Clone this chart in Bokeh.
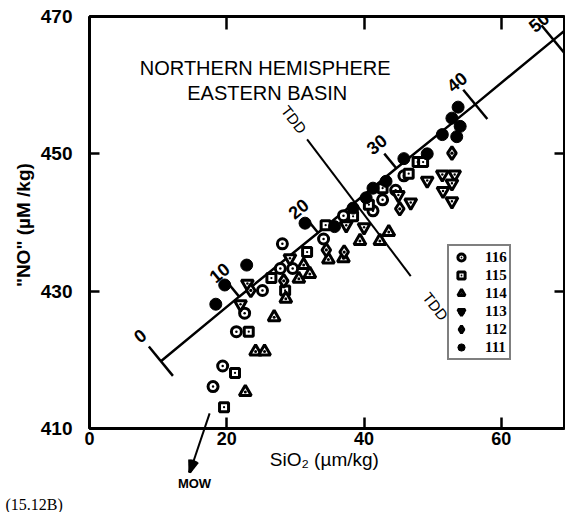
import math
from bokeh.plotting import figure
from bokeh.models import (Range1d, LinearAxis, FixedTicker, Label, Arrow, NormalHead,
                          Legend, LegendItem, Title)
from bokeh.embed import file_html
from bokeh.resources import INLINE

# ---------------- data ----------------
s116_x = [18.0, 19.4, 21.4, 22.6, 25.2, 27.8, 29.6, 28.1, 34.1, 37.0, 41.3, 42.7, 44.6, 45.8]
s116_y = [416.1, 419.1, 424.1, 426.8, 430.1, 433.3, 433.3, 436.9, 437.6, 441.0, 441.7, 443.3, 444.7, 446.8]
s115_x = [19.6, 21.2, 23.2, 26.5, 28.5, 31.7, 34.4, 38.4, 40.7, 42.7, 46.5, 47.8, 48.6]
s115_y = [413.1, 418.1, 424.1, 431.9, 430.1, 435.7, 439.6, 440.9, 442.6, 445.0, 447.1, 448.8, 448.8]
s114_x = [22.7, 24.2, 25.5, 26.9, 28.6, 30.5, 32.1, 31.2, 34.8, 37.0, 39.4, 42.3, 43.6]
s114_y = [415.3, 421.2, 421.2, 426.2, 428.9, 431.8, 432.5, 433.8, 434.6, 434.8, 437.3, 437.3, 438.6]
s113_x = [22.0, 23.0, 29.2, 37.4, 40.0, 45.0, 46.8, 49.2, 51.4, 53.2, 52.8, 51.5, 52.8]
s113_y = [428.1, 431.1, 434.8, 439.6, 439.3, 444.0, 442.9, 446.1, 447.0, 447.0, 445.7, 444.6, 443.1]
s112_x = [23.5, 28.3, 34.5, 37.1, 45.2, 52.8]
s112_y = [430.1, 431.5, 436.0, 435.7, 442.0, 450.1]
s111_x = [18.4, 19.7, 22.9, 31.4, 35.7, 38.4, 40.3, 41.3, 43.2, 45.8, 49.2, 51.4, 53.5, 54.0, 52.8, 53.7]
s111_y = [428.1, 430.9, 433.8, 439.9, 439.4, 442.1, 443.6, 445.0, 446.0, 449.3, 450.0, 452.8, 452.5, 454.0, 455.2, 456.8]

# mixing line ticks
mix_labels = ["0", "10", "20", "30", "40", "50"]
mix_x = [10.4, 21.8, 33.3, 44.7, 56.2, 67.6]
mix_y = [419.8, 429.2, 438.5, 447.9, 457.2, 466.6]
mix_cross = [True, False, False, False, True, True]
mix_label_dist = [33, 31, 31, 31, 29, 23]

# TDD line
tdd_x = [31.7, 46.8]
tdd_y = [452.1, 432.2]
tdd_label_x = [29.8, 50.4]
tdd_label_y = [455.0, 427.8]

# MOW arrow (start, tip)
mow_x = [17.5, 14.6]
mow_y = [412.2, 403.6]
mow_label_x = 15.3

x_ticks = [0, 20, 40, 60]
y_ticks = [410, 430, 450, 470]
X0, X1, Y0, Y1 = 0, 69.2, 410, 470

# ---------------- figure ----------------
W, H = 565, 512
ML, MR, MT, MB = 89, 1, 16, 83
FONT = "Liberation Sans"
BLACK = "black"

p = figure(width=W, height=H, output_backend="svg", toolbar_location=None,
           x_range=Range1d(X0, X1), y_range=Range1d(Y0, Y1),
           min_border_left=ML, min_border_right=MR, min_border_top=MT, min_border_bottom=MB)
p.grid.visible = False
p.outline_line_color = BLACK
p.outline_line_width = 2.5
p.background_fill_color = "white"
p.border_fill_color = "white"

xa = p.xaxis[0]
xa.ticker = FixedTicker(ticks=x_ticks)
xa.major_tick_in = 11
xa.major_tick_out = 0
xa.minor_tick_line_color = None
xa.axis_line_width = 3
xa.major_tick_line_width = 2.5
xa.major_label_text_font = FONT
xa.major_label_text_font_size = "18px"
xa.major_label_text_font_style = "bold"
xa.major_label_text_color = BLACK
xa.major_label_standoff = 3
xa.axis_label = "SiO\u2082  (\u00b5m/kg)"
xa.axis_label_text_font = FONT
xa.axis_label_text_font_size = "19px"
xa.axis_label_text_font_style = "normal"
xa.axis_label_text_color = BLACK
xa.axis_label_standoff = 1

ya = p.yaxis[0]
ya.ticker = FixedTicker(ticks=y_ticks)
ya.major_tick_in = 10
ya.major_tick_out = 0
ya.minor_tick_line_color = None
ya.axis_line_width = 3
ya.major_tick_line_width = 2.5
ya.major_label_text_font = FONT
ya.major_label_text_font_size = "19px"
ya.major_label_text_font_style = "bold"
ya.major_label_text_color = BLACK
ya.major_label_standoff = 17
ya.axis_label = "\"NO\"  (\u00b5M /kg)"
ya.axis_label_text_font = FONT
ya.axis_label_text_font_size = "19px"
ya.axis_label_text_font_style = "bold"
ya.axis_label_text_color = BLACK
ya.axis_label_standoff = 4

top = LinearAxis(ticker=FixedTicker(ticks=[20, 40, 60]), major_tick_in=13, major_tick_out=0,
                 major_label_text_font_size="0px", major_label_standoff=0,
                 axis_line_width=3, major_tick_line_width=2.5, minor_tick_line_color=None)
p.add_layout(top, "above")
right = LinearAxis(ticker=FixedTicker(ticks=[430, 450]), major_tick_in=10, major_tick_out=0,
                   major_label_text_font_size="0px", major_label_standoff=0,
                   axis_line_width=3, major_tick_line_width=2.5, minor_tick_line_color=None)
p.add_layout(right, "right")

# second bottom axis only to carry the "MOW" tag below the main axis
mow_axis = LinearAxis(ticker=FixedTicker(ticks=[mow_label_x]),
                      major_label_overrides={mow_label_x: "MOW"},
                      axis_line_color=None, major_tick_line_color=None, minor_tick_line_color=None,
                      major_tick_in=0, major_tick_out=0, major_label_standoff=3,
                      major_label_text_font=FONT, major_label_text_font_size="13px",
                      major_label_text_font_style="bold", major_label_text_color=BLACK)
p.add_layout(mow_axis, "below")

p.add_layout(Title(text="(15.12B)", align="left", offset=-84, standoff=0,
                   text_font="Liberation Serif", text_font_size="16px",
                   text_font_style="normal", text_color=BLACK), "below")

# ---------------- mixing line ----------------
fw = W - ML - MR
fh = H - MT - MB
sx = fw / (X1 - X0)
sy = fh / (Y1 - Y0)
slope = (mix_y[-1] - mix_y[-2]) / (mix_x[-1] - mix_x[-2])
line_x = mix_x + [X1]
line_y = mix_y + [mix_y[-1] + slope * (X1 - mix_x[-1])]
p.line(line_x, line_y, line_color=BLACK, line_width=2.5)

dxs = (mix_x[-1] - mix_x[0]) * sx
dys = (mix_y[-1] - mix_y[0]) * sy
n = math.hypot(dxs, dys)
perp = (-dys / n, dxs / n)  # screen, y-up
ang = math.atan2(dys, dxs)
L = 19
seg_x0, seg_y0, seg_x1, seg_y1 = [], [], [], []
for x, y, c in zip(mix_x, mix_y, mix_cross):
    ex, ey = perp[0] * L / sx, perp[1] * L / sy
    if c:
        seg_x0.append(x - ex); seg_y0.append(y - ey)
    else:
        seg_x0.append(x); seg_y0.append(y)
    seg_x1.append(x + ex); seg_y1.append(y + ey)
p.segment(seg_x0, seg_y0, seg_x1, seg_y1, line_color=BLACK, line_width=2.5)
for lab, x, y, d in zip(mix_labels, mix_x, mix_y, mix_label_dist):
    p.add_layout(Label(x=x, y=y, text=lab, x_offset=perp[0] * d, y_offset=perp[1] * d,
                       angle=ang, text_align="center", text_baseline="middle",
                       text_font=FONT, text_font_size="18px", text_font_style="bold",
                       text_color=BLACK))

# TDD line
p.line(tdd_x, tdd_y, line_color=BLACK, line_width=2)
for x, y in zip(tdd_label_x, tdd_label_y):
    p.add_layout(Label(x=x, y=y, text="TDD", angle=math.radians(-52), text_align="center",
                       text_baseline="middle", text_font=FONT, text_font_size="15px",
                       text_color=BLACK))

# MOW arrow body inside the frame (plain glyph)
p.line(mow_x, mow_y, line_color=BLACK, line_width=2)

# ---------------- data points ----------------
LW = 3
r116 = p.scatter(s116_x, s116_y, marker="circle_dot", size=10, line_width=LW,
                 line_color=BLACK, fill_color="white")
r115 = p.scatter(s115_x, s115_y, marker="square_dot", size=9, line_width=LW,
                 line_color=BLACK, fill_color="white")
r114 = p.scatter(s114_x, s114_y, marker="triangle_dot", size=12, line_width=LW,
                 line_color=BLACK, fill_color="white")
r113 = p.scatter(s113_x, s113_y, marker="inverted_triangle", size=12, line_width=LW,
                 line_color=BLACK, fill_color="white")
r113d = p.scatter(s113_x, s113_y, marker="circle", size=2.5, line_width=0,
                  fill_color=BLACK, line_color=None)
r112 = p.scatter(s112_x, s112_y, marker="diamond_dot", size=13, line_width=LW,
                 line_color=BLACK, fill_color="white")
r111 = p.scatter(s111_x, s111_y, marker="circle", size=12, line_width=1,
                 line_color=BLACK, fill_color=BLACK)

legend = Legend(items=[
    LegendItem(label="116", renderers=[r116]),
    LegendItem(label="115", renderers=[r115]),
    LegendItem(label="114", renderers=[r114]),
    LegendItem(label="113", renderers=[r113, r113d]),
    LegendItem(label="112", renderers=[r112]),
    LegendItem(label="111", renderers=[r111]),
], location=(358, 68))
legend.border_line_color = BLACK
legend.border_line_width = 2
legend.padding = 2
legend.spacing = 0
legend.margin = 0
legend.label_height = 18
legend.glyph_height = 18
legend.glyph_width = 20
legend.label_standoff = 14
legend.label_text_font = "Liberation Sans Narrow"
legend.label_text_font_size = "15px"
legend.label_text_font_style = "bold"
legend.label_text_color = BLACK
legend.background_fill_color = "white"
legend.background_fill_alpha = 1
p.add_layout(legend, "center")

# ---------------- annotations ----------------
p.add_layout(Label(x=26.0, y=462.5, text="NORTHERN  HEMISPHERE", text_align="center",
                   text_baseline="middle", text_font=FONT, text_font_size="20px",
                   text_color=BLACK))
p.add_layout(Label(x=26.3, y=458.9, text="EASTERN  BASIN", text_align="center",
                   text_baseline="middle", text_font=FONT, text_font_size="20px",
                   text_color=BLACK))


def arrow_piece(x0, y0, x1, y1, width, reach):
    a = Arrow(end=NormalHead(size=reach, fill_alpha=0, line_alpha=0),
              x_start=x0, y_start=y0, x_end=x1, y_end=y1,
              line_width=width, line_color=BLACK, level="overlay")
    p.add_layout(a)


# MOW arrow below the axis: body plus a fan of short strokes forming the head
ux = (mow_x[0] - mow_x[1]) * sx
uy = (mow_y[0] - mow_y[1]) * sy
un = math.hypot(ux, uy)
ux, uy = ux / un, uy / un
arrow_piece(mow_x[0], mow_y[0], mow_x[1], mow_y[1], 2, 90)
HEAD_LEN = 13
for deg in (-20, -13, -6, 0, 6, 13, 20):
    t = math.radians(deg)
    wx = (ux * math.cos(t) - uy * math.sin(t)) * HEAD_LEN
    wy = (ux * math.sin(t) + uy * math.cos(t)) * HEAD_LEN
    arrow_piece(mow_x[1] + wx / sx, mow_y[1] + wy / sy, mow_x[1], mow_y[1], 2.5, HEAD_LEN + 4)

open("out.html", "w").write(file_html(p, INLINE))
